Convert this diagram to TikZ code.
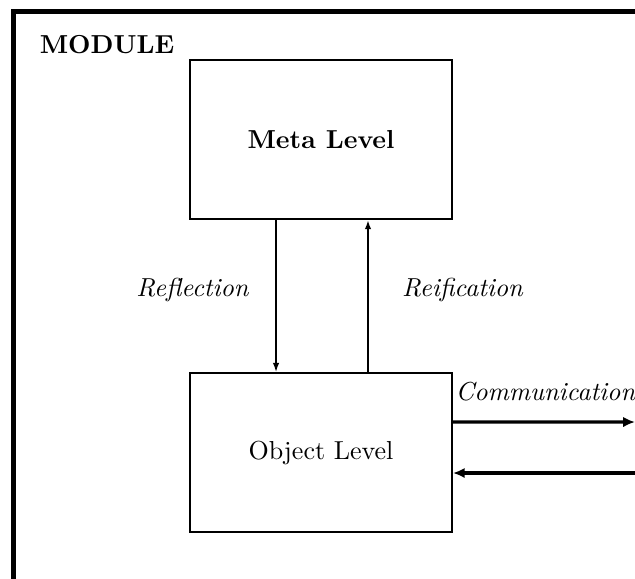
\documentclass[tikz,border=0pt]{standalone}
\usetikzlibrary{arrows.meta}
\begin{document}
\begin{tikzpicture}[
    level/.style={draw,line width=0.8pt,minimum width=3.54cm,minimum height=2.15cm},
    tip/.style={-{Latex[length=3.5pt,width=2.5pt]}},
    bigtip/.style={-{Latex[length=4.5pt,width=4pt]}}]
        % рамка
        \clip (0,0) rectangle (8.581,-7.811);
        \draw[line width=1.6pt] (0.182,-9) -- (0.182,-0.155) -- (9.5,-0.155);
        \node[font=\bfseries] (module) at (1.446,-0.608) {MODULE};

        \node[level,font=\bfseries] (meta) at (4.338,-1.885) {Meta Level};
        \node[level] (obj) at (4.338,-6.115) {Object Level};

        \coordinate (out1) at (8.58,-5.703);
        \coordinate (out2) at (9.5,-6.392);

        \draw[tip,line width=0.5pt] ([xshift=-0.608cm]meta.south) -- ([xshift=-0.608cm]obj.north);
        \draw[tip,line width=0.8pt] ([xshift=0.635cm]obj.north) -- ([xshift=0.635cm]meta.south);
        \draw[bigtip,line width=1.2pt] ([yshift=0.412cm]obj.east) -- (out1);
        \draw[bigtip,line width=1.2pt] (out2) -- ([yshift=-0.277cm]obj.east);

        \node[font=\itshape] (refl) at (2.601,-3.919) {Reflection};
        \node[font=\itshape] (reif) at (6.25,-3.919) {Reification};
        \node[font=\itshape,anchor=west,inner sep=0pt] (comm) at (6.15,-5.297) {Communication};
    \end{tikzpicture}
\end{document}
